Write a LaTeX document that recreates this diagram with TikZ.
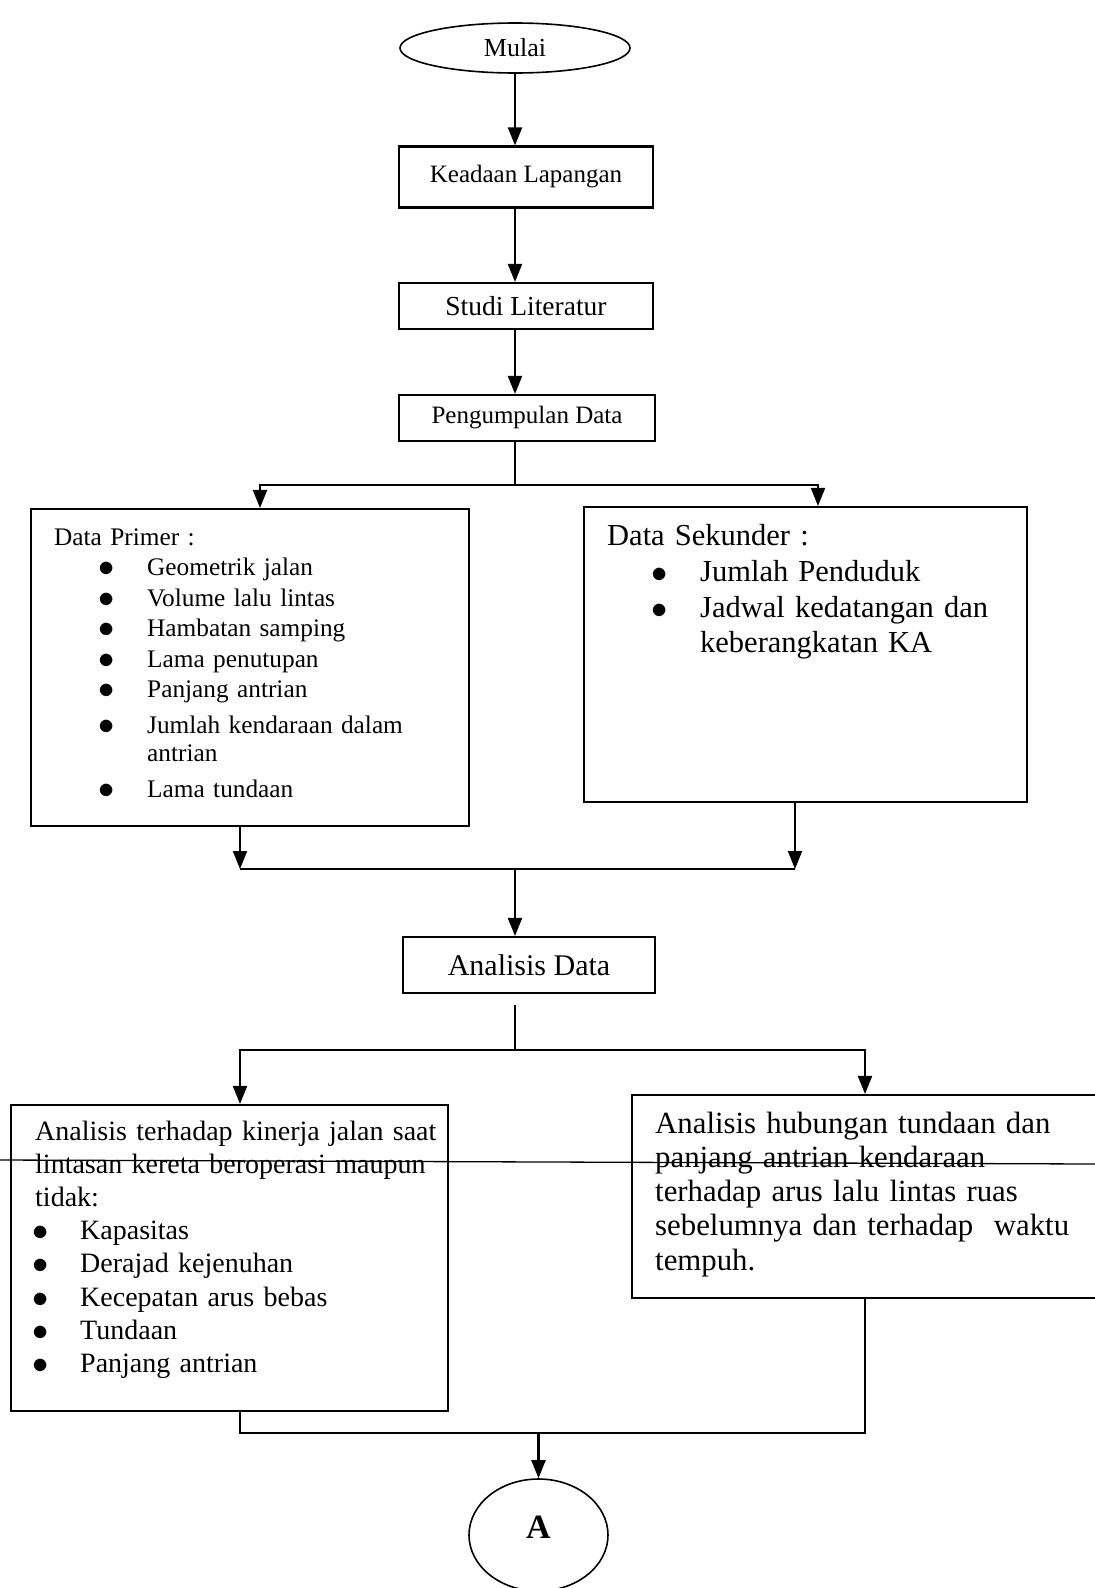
\documentclass[tikz,border=0pt]{standalone}
\usepackage{graphicx}
\usepackage{fontspec}
\setmainfont{Liberation Serif}
\usetikzlibrary{shapes.geometric,arrows.meta,positioning}

\newcommand{\butir}[2]{\hspace*{#1}\makebox[0pt]{\smash{\raisebox{-1pt}{\scalebox{1.3}{$\bullet$}}}}\hspace*{#2}}

\begin{document}
\begin{tikzpicture}
        [x=1pt, y=-1pt,
        kotak/.style={rectangle, draw, line width=2.1pt, inner sep=0pt},
        teks/.style={inner sep=0pt, anchor=base west, align=left},
        garis/.style={line width=2.1pt, black},
        panah/.style={garis, -{Triangle[length=18pt, width=14pt]}},
        duapanah/.style={garis, {Triangle[length=18pt, width=14pt]}-{Triangle[length=18pt, width=14pt]}}]

        \useasboundingbox (0,0) rectangle (1095,1588);
        \fill[white] (0,0) rectangle (1095,1588);
        \clip (0,0) rectangle (1095,1588);

        \node[ellipse, draw, line width=1.6pt, inner sep=0pt, minimum width=230pt, minimum height=50pt, font=\fontsize{26}{30}\selectfont] (mulai) at (515,48) {Mulai};
        \node[kotak, minimum width=254pt, minimum height=61pt, font=\fontsize{25}{30}\selectfont] (keadaan) at (526,177) {Keadaan Lapangan};
        \node[kotak, minimum width=254pt, minimum height=46pt, font=\fontsize{27.5}{32}\selectfont] (studi) at (526,306) {Studi Literatur};
        \node[kotak, minimum width=256pt, minimum height=46pt, font=\fontsize{25}{30}\selectfont] (kumpul) at (527,418) {Pengumpulan Data};

        \node[kotak, minimum width=438pt, minimum height=317pt] (primer) at (250,667.5) {};
        \node[teks, text width=400pt, font=\fontsize{25.3}{30.5}\selectfont] (primerteks) at (54,545) {Data Primer :\\
            \butir{52pt}{41pt}Geometrik jalan\\
            \butir{52pt}{41pt}Volume lalu lintas\\
            \butir{52pt}{41pt}Hambatan samping\\
            \butir{52pt}{41pt}Lama penutupan\\
            \butir{52pt}{41pt}Panjang antrian\\[5pt]
            \butir{52pt}{41pt}Jumlah kendaraan dalam\\[-2.5pt]
            \hspace*{93pt}antrian\\[5.5pt]
            \butir{52pt}{41pt}Lama tundaan};

        \node[kotak, minimum width=443pt, minimum height=295pt] (sekunder) at (805.5,654.5) {};
        \node[teks, text width=410pt, font=\fontsize{30.5}{36}\selectfont] (sekunderteks) at (607,545) {Data Sekunder :\\
            \butir{52pt}{41pt}Jumlah Penduduk\\
            \butir{52pt}{41pt}Jadwal kedatangan dan\\[-1pt]
            \hspace*{93pt}keberangkatan KA};

        \node[kotak, minimum width=252pt, minimum height=56pt, font=\fontsize{30}{35}\selectfont] (analisis) at (529,965) {Analisis Data};

        \node[kotak, minimum width=437pt, minimum height=306pt] (kinerja) at (229.5,1258) {};
        \node[teks, text width=420pt, font=\fontsize{28}{33.2}\selectfont] (kinerjateks) at (35,1140) {Analisis terhadap kinerja jalan saat\\
            lintasan kereta beroperasi maupun\\
            tidak:\\
            \butir{5pt}{40pt}Kapasitas\\
            \butir{5pt}{40pt}Derajad kejenuhan\\
            \butir{5pt}{40pt}Kecepatan arus bebas\\
            \butir{5pt}{40pt}Tundaan\\
            \butir{5pt}{40pt}Panjang antrian};

        \node[kotak, minimum width=468pt, minimum height=203pt] (hubungan) at (866,1196.5) {};
        \node[teks, text width=430pt, font=\fontsize{30.8}{34.3}\selectfont] (hubunganteks) at (655,1133) {Analisis hubungan tundaan dan\\
            panjang antrian kendaraan\\
            terhadap arus lalu lintas ruas\\
            sebelumnya dan terhadap\ \ waktu\\
            tempuh.};

        \node[ellipse, draw, line width=1.6pt, inner sep=0pt, minimum width=139pt, minimum height=112pt, text height=22pt, text depth=16pt, font=\bfseries\fontsize{34}{40}\selectfont] (sambung) at (538.5,1535) {A};

        \coordinate (cabangkiri) at (260,485);
        \coordinate (cabangkanan) at (818,485);
        \coordinate (gabungkiri) at (240,869);
        \coordinate (gabungkanan) at (795,869);
        \coordinate (cabangbawahkiri) at (240,1050);
        \coordinate (cabangbawahkanan) at (865,1050);
        \coordinate (gabungbawahkiri) at (240,1433);
        \coordinate (gabungbawahkanan) at (865,1433);

        \draw[panah] (mulai.south) -- (mulai.south |- keadaan.north);
        \draw[panah] (keadaan.south -| mulai) -- (studi.north -| mulai);
        \draw[panah] (studi.south -| mulai) -- (kumpul.north -| mulai);
        \draw[garis] (kumpul.south -| mulai) -- (mulai |- cabangkiri);
        \draw[duapanah] (cabangkiri |- primer.north) -- (cabangkiri) -- (cabangkanan) -- (cabangkanan |- sekunder.north);

        \draw[panah] (primer.south -| gabungkiri) -- (gabungkiri);
        \draw[panah] (sekunder.south -| gabungkanan) -- (gabungkanan);
        \draw[garis] (gabungkiri) -- (gabungkanan);
        \draw[panah] (mulai |- gabungkiri) -- (mulai |- analisis.north);

        \draw[garis, shorten <=11pt] (analisis.south -| mulai) -- (mulai |- cabangbawahkiri);
        \draw[duapanah] (cabangbawahkiri |- kinerja.north) -- (cabangbawahkiri) -- (cabangbawahkanan) -- (cabangbawahkanan |- hubungan.north);

        \draw[garis] (kinerja.south -| gabungbawahkiri) -- (gabungbawahkiri) -- (gabungbawahkanan) -- (hubungan.south -| gabungbawahkanan);
        \draw[panah] (sambung.north |- gabungbawahkiri) -- (sambung.north);

        \draw[line width=1.3pt] (0,1160) -- (1095,1164);

    \end{tikzpicture}
\end{document}
